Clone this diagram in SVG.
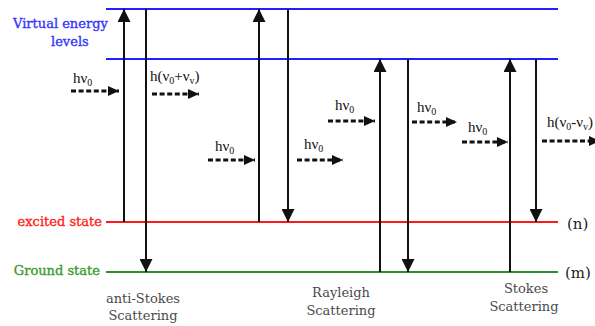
<svg xmlns="http://www.w3.org/2000/svg" width="595" height="326" viewBox="0 0 595 326">
<style>
.lvl{stroke-width:2;fill:none}
.blue{stroke:#1f1fff}
.red{stroke:#ff1a1a}
.green{stroke:#2e8b2e}
.lab{font-family:"DejaVu Serif","Liberation Serif",serif;font-size:13px;stroke-width:0.35}
.ph{font-family:"Liberation Serif","Times New Roman",serif;font-size:15px;fill:#111}
.sub{font-size:10px}
.tr{stroke:#111;stroke-width:2;fill:none}
.da{stroke:#111;stroke-width:2.8;stroke-dasharray:5 2.6;fill:none}
.cap{font-family:"DejaVu Serif","Liberation Serif",serif;font-size:13px;fill:#4a4a4a;text-anchor:middle}
.nm{font-family:"DejaVu Serif","Liberation Serif",serif;font-size:15px;fill:#222}
</style>
<defs>
<marker id="vh" markerUnits="userSpaceOnUse" markerWidth="13" markerHeight="13" refX="13" refY="6.5" orient="auto">
<path d="M0,0 L13,6.5 L0,13 Z" fill="#111"/>
</marker>
<marker id="dh" markerUnits="userSpaceOnUse" markerWidth="11" markerHeight="10" refX="11" refY="5" orient="auto">
<path d="M0,0 L11,5 L0,10 Z" fill="#111"/>
</marker>
</defs>
<rect width="595" height="326" fill="#fff"/>

<g id="virtual-top"><line class="lvl blue" x1="106" y1="9" x2="558" y2="9"/></g>
<g id="virtual-low"><line class="lvl blue" x1="106" y1="59" x2="558" y2="59"/></g>
<g id="virtual-label">
<text class="lab" fill="#3333ff" stroke="#3333ff" x="13" y="28">Virtual energy</text>
<text class="lab" fill="#3333ff" stroke="#3333ff" x="51" y="46">levels</text>
</g>
<g id="excited-state">
<line class="lvl red" x1="106" y1="222" x2="558" y2="222"/>
<text class="lab" fill="#ff2222" stroke="#ff2222" x="102" y="226" text-anchor="end">excited state</text>
<text class="nm" x="567" y="229">(n)</text>
</g>
<g id="ground-state">
<line class="lvl green" x1="106" y1="272" x2="558" y2="272"/>
<text class="lab" fill="#3a9a2a" stroke="#3a9a2a" x="100" y="275" text-anchor="end">Ground state</text>
<text class="nm" x="565" y="278">(m)</text>
</g>

<g id="connectors">
<line class="tr" x1="124" y1="222" x2="124" y2="9" marker-end="url(#vh)"/>
<line class="tr" x1="146" y1="9" x2="146" y2="272" marker-end="url(#vh)"/>
<line class="tr" x1="259" y1="222" x2="259" y2="9" marker-end="url(#vh)"/>
<line class="tr" x1="288" y1="9" x2="288" y2="222" marker-end="url(#vh)"/>
<line class="tr" x1="380" y1="272" x2="380" y2="59" marker-end="url(#vh)"/>
<line class="tr" x1="408" y1="59" x2="408" y2="272" marker-end="url(#vh)"/>
<line class="tr" x1="510" y1="272" x2="510" y2="59" marker-end="url(#vh)"/>
<line class="tr" x1="536" y1="59" x2="536" y2="222" marker-end="url(#vh)"/>

<line class="da" x1="71" y1="91" x2="119" y2="91" marker-end="url(#dh)"/>
<line class="da" x1="152" y1="94" x2="199" y2="94" marker-end="url(#dh)"/>
<line class="da" x1="208" y1="160" x2="255" y2="160" marker-end="url(#dh)"/>
<line class="da" x1="297" y1="160" x2="343" y2="160" marker-end="url(#dh)"/>
<line class="da" x1="328" y1="121" x2="375" y2="121" marker-end="url(#dh)"/>
<line class="da" x1="412" y1="122" x2="457" y2="122" marker-end="url(#dh)"/>
<line class="da" x1="462" y1="142" x2="508" y2="142" marker-end="url(#dh)"/>
<line class="da" x1="542" y1="141" x2="600" y2="141" marker-end="url(#dh)"/>
</g>

<g id="photon-labels">
<text class="ph" x="73" y="83">hν<tspan class="sub" dy="3">0</tspan></text>
<text class="ph" x="150" y="81">h(ν<tspan class="sub" dy="3">0</tspan><tspan dy="-3">+ν</tspan><tspan class="sub" dy="3">v</tspan><tspan dy="-3">)</tspan></text>
<text class="ph" x="215" y="151">hν<tspan class="sub" dy="3">0</tspan></text>
<text class="ph" x="304" y="149">hν<tspan class="sub" dy="3">0</tspan></text>
<text class="ph" x="335" y="110">hν<tspan class="sub" dy="3">0</tspan></text>
<text class="ph" x="417" y="112">hν<tspan class="sub" dy="3">0</tspan></text>
<text class="ph" x="468" y="132">hν<tspan class="sub" dy="3">0</tspan></text>
<text class="ph" x="547" y="127">h(ν<tspan class="sub" dy="3">0</tspan><tspan dy="-3">-ν</tspan><tspan class="sub" dy="3">v</tspan><tspan dy="-3">)</tspan></text>
</g>

<g id="captions">
<text class="cap" x="143" y="303">anti-Stokes</text>
<text class="cap" x="143" y="320">Scattering</text>
<text class="cap" x="341" y="297">Rayleigh</text>
<text class="cap" x="341" y="315">Scattering</text>
<text class="cap" x="526" y="293">Stokes</text>
<text class="cap" x="524" y="311">Scattering</text>
</g>
</svg>
